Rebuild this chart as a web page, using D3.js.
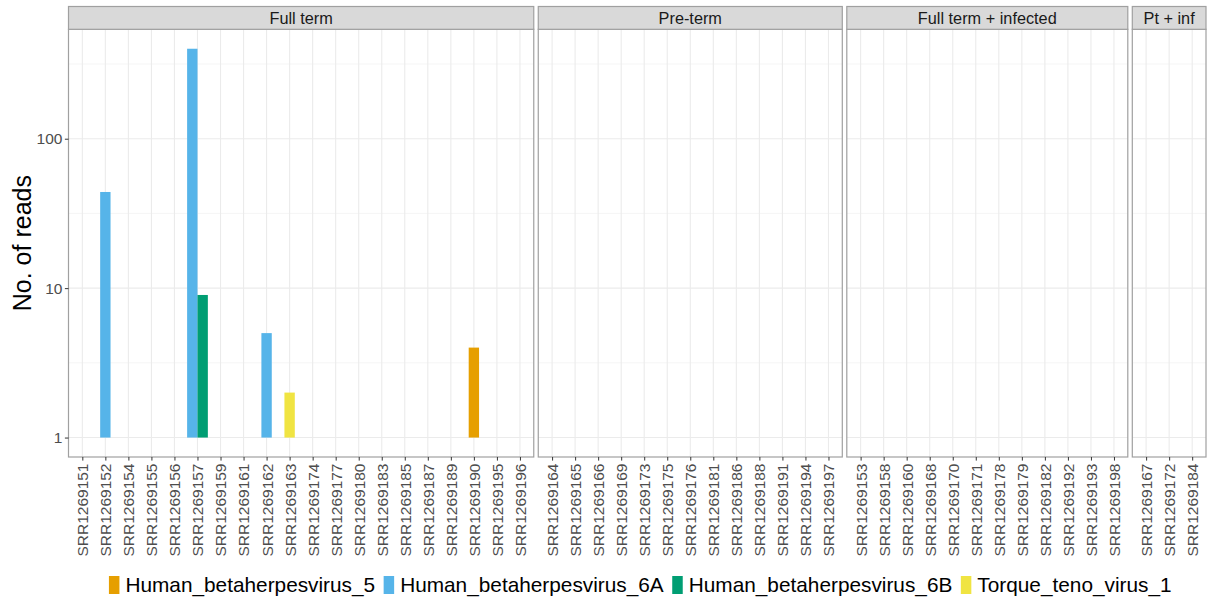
<!DOCTYPE html>
<html>
<head>
<meta charset="utf-8">
<script src="https://cdn.jsdelivr.net/npm/d3@7"></script>
<style>
  body { margin: 0; background: #fff; }
  text { font-family: "Liberation Sans", Arial, sans-serif; }
</style>
</head>
<body>
<div id="chart"></div>
<script>
// facet groups and the samples in each one
var facets = ["Full term", "Pre-term", "Full term + infected", "Pt + inf"];
var fullTermSamples = ["SRR1269151", "SRR1269152", "SRR1269154", "SRR1269155", "SRR1269156",
    "SRR1269157", "SRR1269159", "SRR1269161", "SRR1269162", "SRR1269163", "SRR1269174",
    "SRR1269177", "SRR1269180", "SRR1269183", "SRR1269185", "SRR1269187", "SRR1269189",
    "SRR1269190", "SRR1269195", "SRR1269196"];
var preTermSamples = ["SRR1269164", "SRR1269165", "SRR1269166", "SRR1269169", "SRR1269173",
    "SRR1269175", "SRR1269176", "SRR1269181", "SRR1269186", "SRR1269188", "SRR1269191",
    "SRR1269194", "SRR1269197"];
var fullTermInfSamples = ["SRR1269153", "SRR1269158", "SRR1269160", "SRR1269168", "SRR1269170",
    "SRR1269171", "SRR1269178", "SRR1269179", "SRR1269182", "SRR1269192", "SRR1269193",
    "SRR1269198"];
var ptInfSamples = ["SRR1269167", "SRR1269172", "SRR1269184"];

// viruses (legend order) and colours
var viruses = ["Human_betaherpesvirus_5", "Human_betaherpesvirus_6A",
    "Human_betaherpesvirus_6B", "Torque_teno_virus_1"];
var virusColors = ["#E69F00", "#56B4E9", "#009E73", "#F0E442"];

// the bars
var barSamples = ["SRR1269152", "SRR1269157", "SRR1269157", "SRR1269162", "SRR1269163", "SRR1269190"];
var barViruses = ["Human_betaherpesvirus_6A", "Human_betaherpesvirus_6A", "Human_betaherpesvirus_6B",
    "Human_betaherpesvirus_6A", "Torque_teno_virus_1", "Human_betaherpesvirus_5"];
var barReads = [44, 400, 9, 5, 2, 4];

var yTicks = [1, 10, 100];

function init() {
    var w = 1207, h = 605;
    var left = 68.5, right = 1206, gap = 4.5;
    var stripTop = 6.5, panelTop = 29.3, panelBottom = 457;

    var svg = d3.select("#chart").append("svg")
        .attr("width", w)
        .attr("height", h);

    var groups = [fullTermSamples, preTermSamples, fullTermInfSamples, ptInfSamples];
    var totalUnits = d3.sum(groups, function(g) { return g.length + 0.2; });
    var unit = (right - left - gap * (groups.length - 1)) / totalUnits;

    // log y scale, expanded 5% in log space like ggplot
    var lo = 0, hi = Math.log10(d3.max(barReads));
    var ex = (hi - lo) * 0.05;
    var yScale = d3.scaleLog()
        .domain([Math.pow(10, lo - ex), Math.pow(10, hi + ex)])
        .range([panelBottom, panelTop]);
    var minorTicks = [0.5, 1.5, 2.5].map(function(e) { return Math.pow(10, e); });

    var colour = d3.scaleOrdinal().domain(viruses).range(virusColors);

    var bars = barSamples.map(function(s, i) {
        return { sample: s, virus: barViruses[i], reads: barReads[i] };
    });

    var x0 = left;
    groups.forEach(function(samples, gi) {
        var pw = (samples.length + 0.2) * unit;
        var xScale = d3.scalePoint()
            .domain(samples)
            .range([x0, x0 + pw])
            .padding(0.6);
        var step = xScale.step();
        var bw = step * 0.45;

        var g = svg.append("g");

        // grid
        g.selectAll(".minor").data(minorTicks).enter().append("line")
            .attr("x1", x0).attr("x2", x0 + pw)
            .attr("y1", function(d) { return yScale(d); })
            .attr("y2", function(d) { return yScale(d); })
            .attr("stroke", "#F2F2F2").attr("stroke-width", 0.8);
        g.selectAll(".major").data(yTicks).enter().append("line")
            .attr("x1", x0).attr("x2", x0 + pw)
            .attr("y1", function(d) { return yScale(d); })
            .attr("y2", function(d) { return yScale(d); })
            .attr("stroke", "#EBEBEB").attr("stroke-width", 1.1);
        g.selectAll(".vgrid").data(samples).enter().append("line")
            .attr("x1", function(d) { return xScale(d); })
            .attr("x2", function(d) { return xScale(d); })
            .attr("y1", panelTop).attr("y2", panelBottom)
            .attr("stroke", "#EBEBEB").attr("stroke-width", 1.1);

        // bars, dodged within a sample
        var pb = bars.filter(function(b) { return samples.indexOf(b.sample) >= 0; });
        g.selectAll("rect.bar").data(pb).enter().append("rect")
            .attr("class", "bar")
            .attr("x", function(d) {
                var same = pb.filter(function(b) { return b.sample === d.sample; });
                same.sort(function(a, b) { return viruses.indexOf(a.virus) - viruses.indexOf(b.virus); });
                var k = same.indexOf(d), n = same.length;
                return xScale(d.sample) + (k - (n - 1) / 2) * bw - bw / 2;
            })
            .attr("y", function(d) { return yScale(d.reads); })
            .attr("width", bw)
            .attr("height", function(d) { return yScale(1) - yScale(d.reads); })
            .attr("fill", function(d) { return colour(d.virus); });

        // panel border
        g.append("rect")
            .attr("x", x0).attr("y", panelTop)
            .attr("width", pw).attr("height", panelBottom - panelTop)
            .attr("fill", "none").attr("stroke", "#A0A0A0").attr("stroke-width", 1.2);

        // strip
        g.append("rect")
            .attr("x", x0).attr("y", stripTop)
            .attr("width", pw).attr("height", panelTop - stripTop)
            .attr("fill", "#D9D9D9").attr("stroke", "#A0A0A0").attr("stroke-width", 1.2);
        g.append("text")
            .attr("x", x0 + pw / 2)
            .attr("y", (stripTop + panelTop) / 2 + 5.8)
            .attr("text-anchor", "middle")
            .attr("font-size", "16.3px")
            .attr("fill", "#1A1A1A")
            .text(facets[gi]);

        // x axis
        var xAxis = svg.append("g")
            .attr("transform", "translate(0," + panelBottom + ")")
            .call(d3.axisBottom(xScale).tickSize(3.6).tickPadding(2.5));
        xAxis.select(".domain").remove();
        xAxis.selectAll(".tick line").attr("stroke", "#333333");
        xAxis.selectAll(".tick text")
            .attr("font-size", "15.5px")
            .attr("font-family", "Liberation Sans, Arial, sans-serif")
            .attr("fill", "#4D4D4D")
            .attr("transform", "rotate(-90)")
            .attr("text-anchor", "end")
            .attr("x", -6.5)
            .attr("y", 0)
            .attr("dy", "0.35em");

        x0 += pw + gap;
    });

    // y axis
    var yAxis = svg.append("g")
        .attr("transform", "translate(" + left + ",0)")
        .call(d3.axisLeft(yScale).tickValues(yTicks).tickFormat(d3.format("d"))
            .tickSize(3.6).tickPadding(2.5));
    yAxis.select(".domain").remove();
    yAxis.selectAll(".tick line").attr("stroke", "#333333");
    yAxis.selectAll(".tick text")
        .attr("font-size", "15.5px")
        .attr("font-family", "Liberation Sans, Arial, sans-serif")
        .attr("fill", "#4D4D4D");

    // y title
    svg.append("text")
        .attr("transform", "translate(31," + ((panelTop + panelBottom) / 2) + ") rotate(-90)")
        .attr("text-anchor", "middle")
        .attr("font-size", "25px")
        .attr("fill", "#000")
        .text("No. of reads");

    // legend at bottom, centred on the panel area
    var legend = svg.append("g");
    var keyW = 10.5, keyH = 18, keyGap = 6, itemGap = 8.5, fs = 20.8;
    var items = legend.selectAll("g").data(viruses).enter().append("g");
    items.append("rect")
        .attr("width", keyW).attr("height", keyH)
        .attr("y", 576)
        .attr("fill", function(d) { return colour(d); });
    items.append("text")
        .attr("x", keyW + keyGap)
        .attr("y", 592)
        .attr("font-size", fs + "px")
        .attr("fill", "#000")
        .text(function(d) { return d; });
    var offsets = [], cur = 0;
    items.each(function() {
        var tw = d3.select(this).select("text").node().getComputedTextLength();
        offsets.push(cur);
        cur += keyW + keyGap + tw + itemGap;
    });
    var totalW = cur - itemGap;
    var startX = (left + right) / 2 + 3 - totalW / 2;
    items.attr("transform", function(d, i) { return "translate(" + (startX + offsets[i]) + ",0)"; });
}

window.onload = init;
</script>
</body>
</html>
